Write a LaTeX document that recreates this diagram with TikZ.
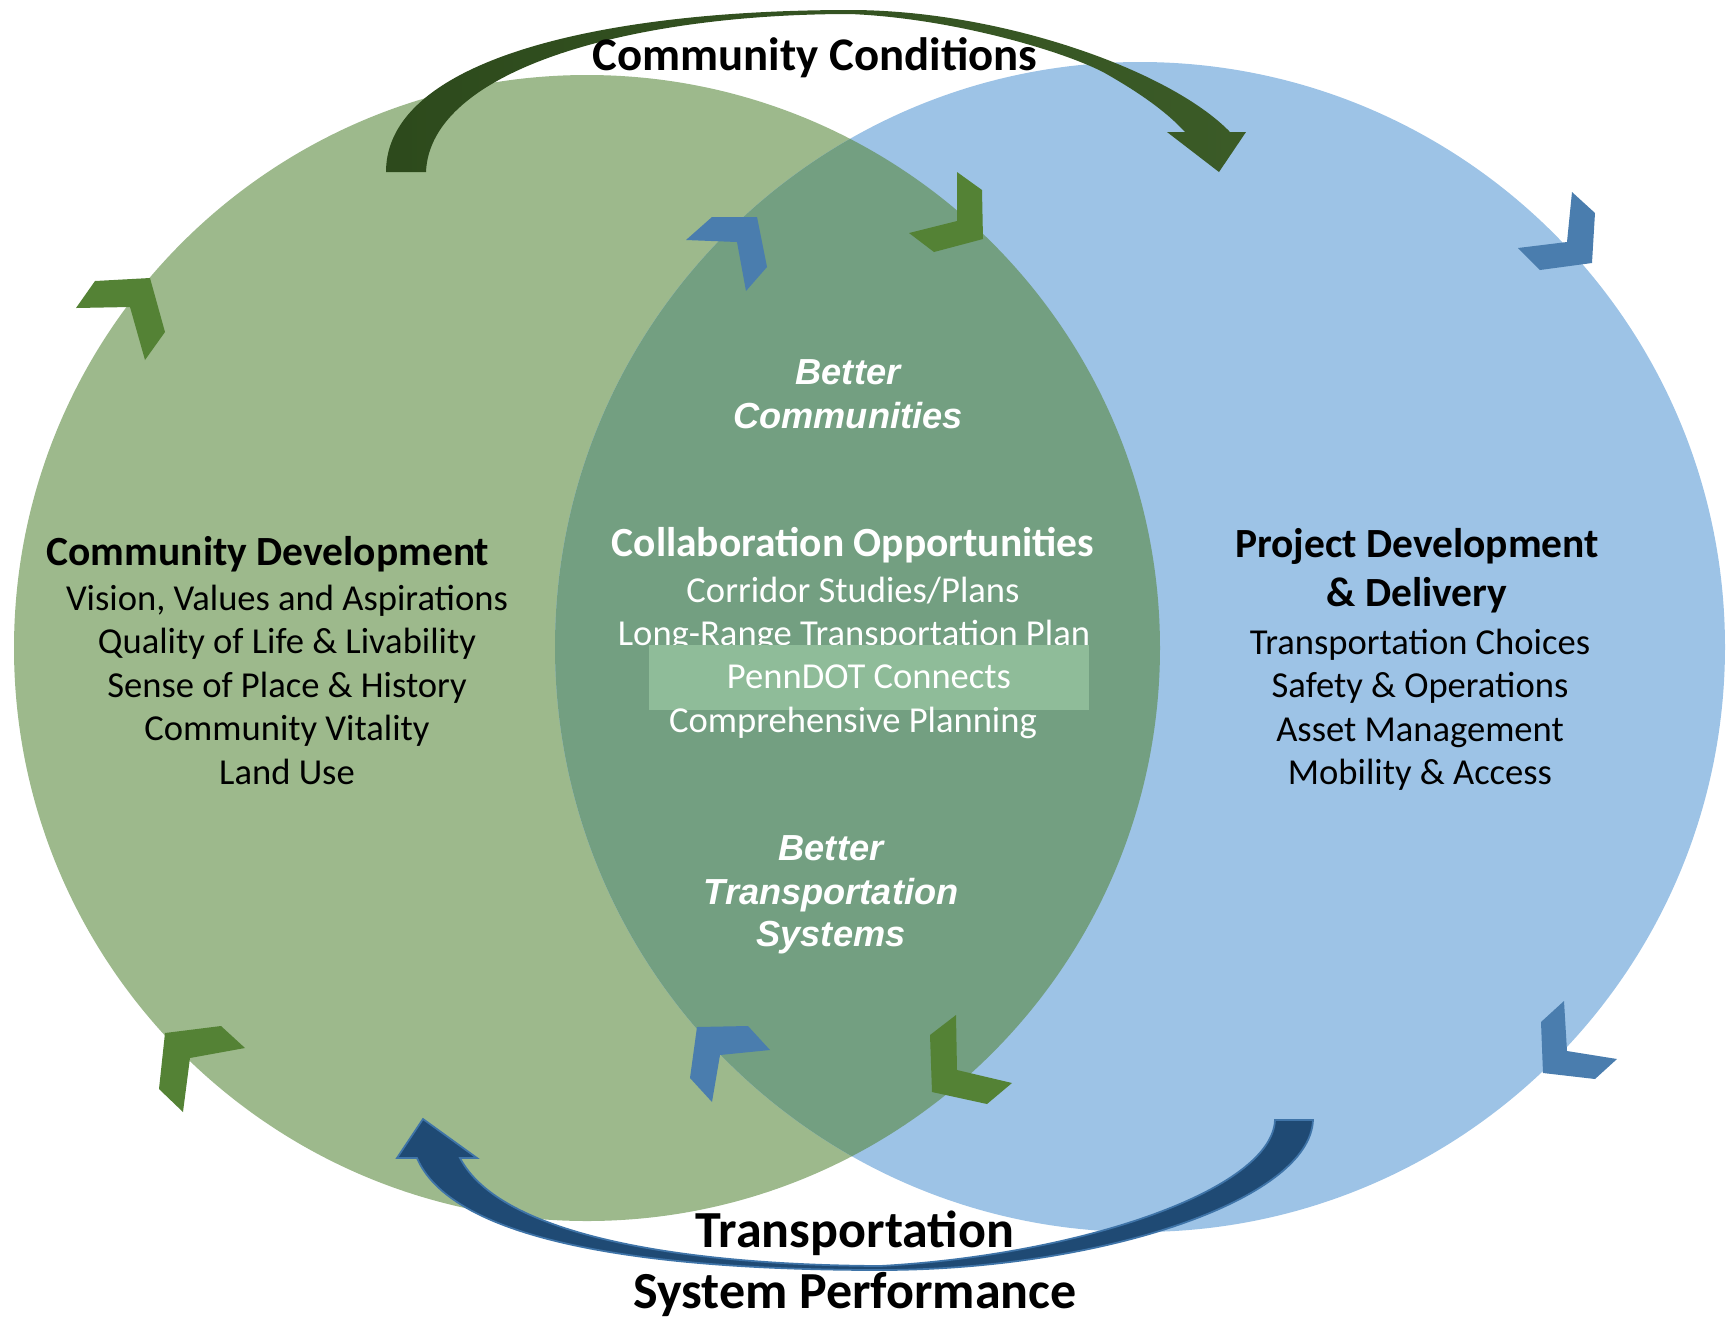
\documentclass[tikz,border=0pt]{standalone}
\usepackage{fontspec}
\setmainfont{Carlito}
\newfontfamily\arialf{Liberation Sans}
\definecolor{gcirc}{HTML}{9DB98C}
\definecolor{bcirc}{HTML}{9DC3E6}
\definecolor{lens}{HTML}{739F81}
\definecolor{chg}{HTML}{548235}
\definecolor{chb}{HTML}{4A7DAE}
\definecolor{boxg}{HTML}{8FBC99}
\definecolor{arrg1}{HTML}{2D4A1C}
\definecolor{arrg2}{HTML}{3B5B27}
\definecolor{arrb}{HTML}{1F4A74}
\definecolor{arrbl}{HTML}{3F74A8}
\tikzset{
  chevg/.style={fill=chg},
  chevb/.style={fill=chb},
  lbl/.style={inner sep=0pt, anchor=base},
  bigtitle/.style={lbl, font=\fontsize{13.3}{16}\selectfont\bfseries},
  bottomtitle/.style={lbl, font=\fontsize{14.8}{18}\selectfont\bfseries},
  headb/.style={lbl, font=\fontsize{11.8}{14}\selectfont\bfseries},
  item/.style={lbl, font=\fontsize{10.4}{12}\selectfont},
  witem/.style={item, text=white},
  whead/.style={lbl, text=white, font=\fontsize{11.8}{14}\selectfont\bfseries},
  better/.style={lbl, text=white, font=\arialf\fontsize{10.3}{12}\selectfont\bfseries\itshape},
}
\begin{document}
\begin{tikzpicture}[x=0.01cm, y=-0.01cm]
\useasboundingbox (0,0) rectangle (1729,1317);
% circles
\fill[gcirc] (587,648) circle[radius=573];
\fill[bcirc] (1140,647) circle[radius=585];
\begin{scope}
  \clip (587,648) circle[radius=573];
  \fill[lens] (1140,647) circle[radius=585];
\end{scope}
% top curved arrow
\shade[left color=arrg1, right color=arrg2]
  (386,172) .. controls (386,60) and (600,10) .. (850,10)
  .. controls (1000,10) and (1170,70) .. (1230,132)
  -- (1246,132) -- (1219,172) -- (1167,132) -- (1185,132)
  .. controls (1165,110) and (1135,90) .. (1103,72)
  .. controls (1060,50) and (950,18) .. (850,14)
  .. controls (630,14) and (430,70) .. (426,172)
  -- cycle;
% bottom curved arrow
\filldraw[fill=arrb, draw=arrbl, line width=0.5pt, line join=miter]
  (417,1158) .. controls (450,1235) and (620,1270) .. (880,1270)
  .. controls (1100,1270) and (1310,1200) .. (1313,1120)
  -- (1275,1120)
  .. controls (1272,1190) and (1080,1255) .. (880,1266)
  .. controls (680,1265) and (500,1235) .. (460,1158)
  -- (477,1158) -- (423,1119) -- (397,1158) -- cycle;
% chevrons
\fill[chevg] (76,308) -- (95,281) -- (150,278) -- (165,332) -- (145,360) -- (130,307) -- cycle;
\fill[chevb] (1572,192) -- (1595,213) -- (1592,263) -- (1540,270) -- (1518,248) -- (1567,242) -- cycle;
\fill[chevg] (165,1033) -- (221,1026) -- (245,1048) -- (190,1058) -- (183,1112) -- (159,1089) -- cycle;
\fill[chevb] (1564,1001) -- (1567,1051) -- (1617,1059) -- (1595,1079) -- (1543,1073) -- (1541,1022) -- cycle;
\fill[chevb] (686,240) -- (712,217) -- (757,217) -- (767,267) -- (746,291) -- (737,242) -- cycle;
\fill[chevg] (957,172) -- (982,190) -- (983,239) -- (934,252) -- (909,233) -- (957,221) -- cycle;
\fill[chevb] (697,1027) -- (748,1026) -- (770,1050) -- (720,1055) -- (712,1102) -- (690,1078) -- cycle;
\fill[chevg] (956,1015) -- (957,1070) -- (1012,1083) -- (987,1104) -- (932,1092) -- (930,1035) -- cycle;
% titles
\node[bigtitle] (cc) at (815,70) {Community Conditions};
\node[bottomtitle] (tsp1) at (855,1247) {Transportation};
\node[bottomtitle] (tsp2) at (855,1308) {System Performance};
% left block
\node[headb] (cd) at (268,565) {Community Development};
\node[item] (cd1) at (287,610) {Vision, Values and Aspirations};
\node[item] (cd2) at (287,653) {Quality of Life \& Livability};
\node[item] (cd3) at (287,697) {Sense of Place \& History};
\node[item] (cd4) at (287,740) {Community Vitality};
\node[item] (cd5) at (287,784) {Land Use};
% right block
\node[headb] (pd1) at (1417,557) {Project Development};
\node[headb] (pd2) at (1417,606) {\& Delivery};
\node[item] (pd3) at (1420,654) {Transportation Choices};
\node[item] (pd4) at (1420,697) {Safety \& Operations};
\node[item] (pd5) at (1420,741) {Asset Management};
\node[item] (pd6) at (1420,784) {Mobility \& Access};
% centre
\node[better] (bc1) at (848,384) {Better};
\node[better] (bc2) at (848,428) {Communities};
\node[whead] (co) at (853,556) {Collaboration Opportunities};
\node[witem] (co1) at (853,602) {Corridor Studies/Plans};
\node[witem] (co2) at (854,645) {Long-Range Transportation Plan};
\fill[boxg] (649,645) rectangle (1089,710);
\node[witem] (co3) at (869,688) {PennDOT Connects};
\node[witem] (co4) at (853,732) {Comprehensive Planning};
\node[better] (bt1) at (831,860) {Better};
\node[better] (bt2) at (831,904) {Transportation};
\node[better] (bt3) at (831,946) {Systems};
\end{tikzpicture}
\end{document}
